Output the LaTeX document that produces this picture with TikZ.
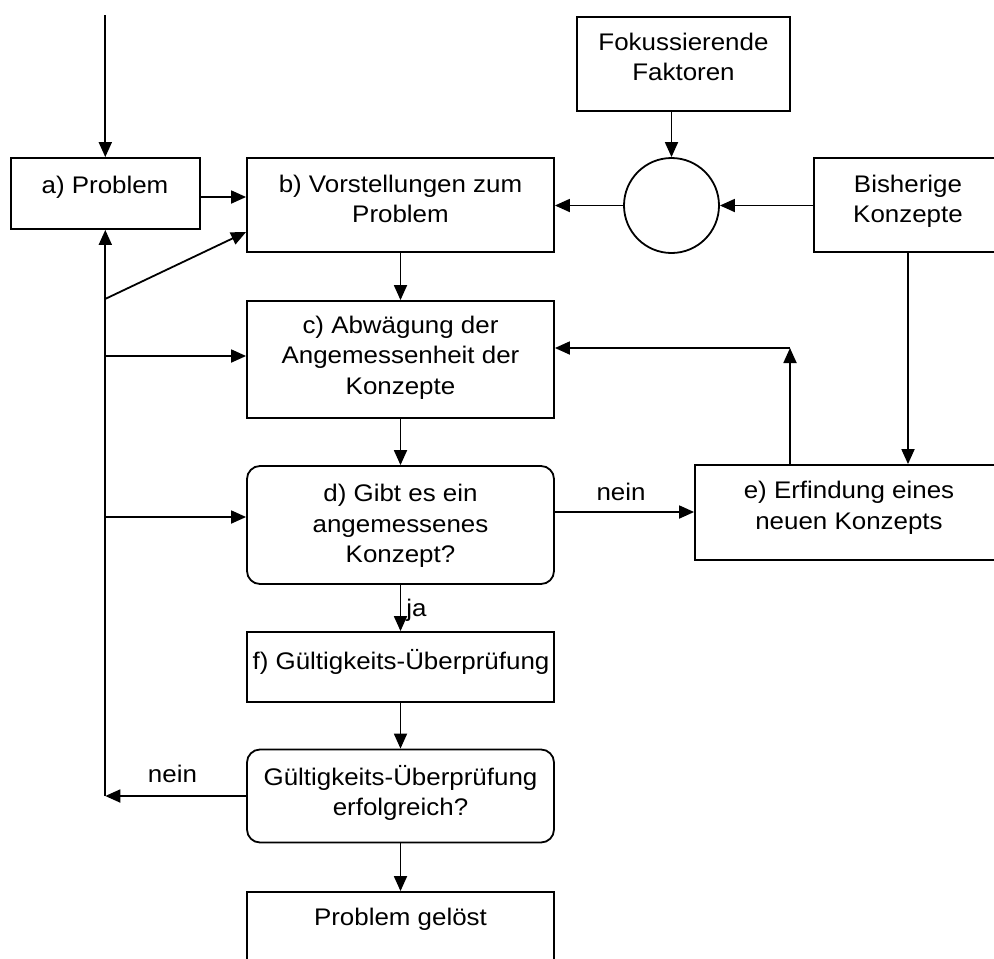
\documentclass[tikz,border=0pt]{standalone}
\usepackage{fontspec}
\setmainfont{Liberation Sans}[FakeStretch=1.08]
\usetikzlibrary{arrows.meta,calc}
\begin{document}
\begin{tikzpicture}[x=1pt,y=-1pt,
  box/.style={draw, line width=1.8pt, rectangle, inner sep=0pt},
  rbox/.style={box, rounded corners=13pt},
  txt/.style={font=\fontsize{24}{30.5}\selectfont, align=center, inner sep=0pt},
  arr/.style={line width=1.8pt, -{Triangle[length=15pt,width=13pt]}}]
\useasboundingbox (0,0) rectangle (994,959);
\clip (0,0) rectangle (994,959);
% boxes
\node[box,minimum width=189pt,minimum height=71pt] (a) at (105.3,193.5) {};
\node[txt] (ta) at (105,187) {a) Problem};
\node[box,minimum width=307pt,minimum height=94pt] (b) at (400.5,205) {};
\node[txt] (tb) at (400.5,199) {b) Vorstellungen zum\\Problem};
\node[box,minimum width=213pt,minimum height=94pt] (F) at (683.5,64) {};
\node[txt] (tF) at (683.5,57) {Fokussierende\\Faktoren};
\node[draw,circle,line width=1.8pt,minimum size=95pt,inner sep=0pt] (o) at (671.5,205.5) {};
\node[box,minimum width=188pt,minimum height=94pt] (B) at (908,205) {};
\node[txt] (tB) at (908,201.5) {Bisherige\\Konzepte};
\node[box,minimum width=307pt,minimum height=117pt] (c) at (400.5,359.5) {};
\node[txt] (tc) at (400.5,357.5) {c) Abwägung der\\Angemessenheit der\\Konzepte};
\node[rbox,minimum width=307pt,minimum height=118pt] (d) at (400.5,525) {};
\node[txt] (td) at (400.5,526) {d) Gibt es ein\\angemessenes\\Konzept?};
\node[box,minimum width=308pt,minimum height=95pt] (e) at (849,512.5) {};
\node[txt] (te) at (849,508) {e) Erfindung eines\\neuen Konzepts};
\node[box,minimum width=307pt,minimum height=70pt] (f) at (400.5,667) {};
\node[txt] (tf) at (401,662) {f) Gültigkeits-Überprüfung};
\node[rbox,minimum width=307pt,minimum height=93pt] (g) at (400.5,796) {};
\node[txt] (tg) at (400.5,793) {Gültigkeits-Überprüfung\\erfolgreich?};
\node[box,minimum width=307pt,minimum height=70pt] (h) at (400.5,927) {};
\node[txt] (th) at (400.5,919) {Problem gelöst};
% labels
\node[txt] (n1) at (621,491.5) {nein};
\node[txt] (n2) at (172.5,773.5) {nein};
\node[txt] (ja) at (416.5,610) {ja};
% connectors
\coordinate (top) at (105.3,15);
\draw[arr] (top) -- (a.north);
\coordinate (a1) at ([yshift=-3.5pt]a.east);
\draw[arr] (a1) -- (a1 -| b.west);
\coordinate (J) at ([yshift=-69pt]a.south);
\coordinate (b1) at ([yshift=-27pt]b.west);
\draw[arr] (J) -- (b1);
\coordinate (c1) at ([yshift=3.5pt]c.west);
\draw[arr] (c1 -| a.south) -- (c1);
\coordinate (d1) at ([yshift=8pt]d.west);
\draw[arr] (d1 -| a.south) -- (d1);
\coordinate (G) at (g.west -| a.south);
\draw[arr] (g.west) -- (G);
\draw[arr] (G) -- (a.south);
\draw[arr] (b.south) -- (c.north);
\draw[arr] (c.south) -- (d.north);
\draw[arr] (d.south) -- (f.north);
\draw[arr] (f.south) -- (g.north);
\draw[arr] (g.south) -- (h.north);
\draw[arr] (o.west) -- (o.west -| b.east);
\draw[arr] (B.west |- o.east) -- (o.east);
\draw[arr] (F.south -| o.north) -- (o.north);
\draw[arr] (B.south) -- (B.south |- e.north);
\coordinate (K) at (790,348);
\draw[arr] (K |- e.north) -- (K);
\draw[arr] (K) -- (K -| c.east);
\coordinate (d2) at ([yshift=13pt]d.east);
\draw[arr] (d2) -- (d2 -| e.west);
\end{tikzpicture}
\end{document}
